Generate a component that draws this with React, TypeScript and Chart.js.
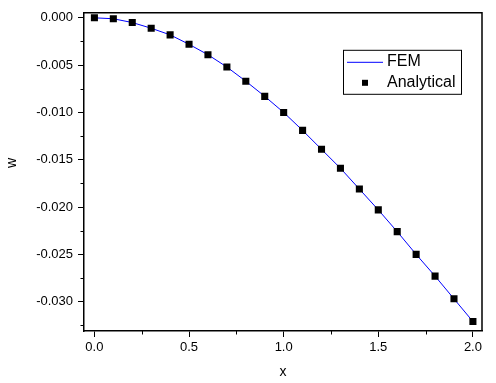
import React, { useEffect, useRef } from "react";
import { Chart, registerables } from "chart.js";

Chart.register(...registerables);

const xValues = [0, 0.1, 0.2, 0.3, 0.4, 0.5, 0.6, 0.7, 0.8, 0.9, 1.0, 1.1, 1.2, 1.3, 1.4, 1.5, 1.6, 1.7, 1.8, 1.9, 2.0];
const femW = [0, -0.0001, -0.0005, -0.0011, -0.0018, -0.0028, -0.0039, -0.0052, -0.0067, -0.0083, -0.0100, -0.0119, -0.0139, -0.0159, -0.0181, -0.0203, -0.0226, -0.0250, -0.0273, -0.0297, -0.0321];
const analyticalW = [0, -0.0001, -0.0005, -0.0011, -0.0018, -0.0028, -0.0039, -0.0052, -0.0067, -0.0083, -0.0100, -0.0119, -0.0139, -0.0159, -0.0181, -0.0203, -0.0226, -0.0250, -0.0273, -0.0297, -0.0321];

const xTicks = [0, 0.5, 1.0, 1.5, 2.0];
const xMinorTicks = [0.25, 0.75, 1.25, 1.75];
const yTicks = [0, -0.005, -0.01, -0.015, -0.02, -0.025, -0.03];
const yMinorTicks = [-0.0025, -0.0075, -0.0125, -0.0175, -0.0225, -0.0275, -0.0325];

const seriesNames = ["FEM", "Analytical"];
const xTitle = "x";
const yTitle = "w";

const FONT = "'Liberation Sans', Arial, sans-serif";

const framePlugin = {
  id: "frame",
  afterDraw(chart: any) {
    const ctx = chart.ctx;
    const { left, right, top, bottom } = chart.chartArea;
    const xs = chart.scales.x;
    const ys = chart.scales.y;
    ctx.save();
    ctx.strokeStyle = "#000";
    ctx.lineWidth = 1.5;
    ctx.beginPath();
    ctx.moveTo(left, top);
    ctx.lineTo(right, top);
    ctx.lineTo(right, bottom);
    ctx.stroke();
    // minor ticks
    ctx.lineWidth = 1;
    ctx.beginPath();
    xMinorTicks.forEach((v) => {
      const px = Math.round(xs.getPixelForValue(v)) + 0.5;
      ctx.moveTo(px, bottom);
      ctx.lineTo(px, bottom + 3.5);
    });
    yMinorTicks.forEach((v) => {
      const py = Math.round(ys.getPixelForValue(v)) + 0.5;
      ctx.moveTo(left, py);
      ctx.lineTo(left - 3.5, py);
    });
    ctx.stroke();
    // axis titles
    ctx.fillStyle = "#000";
    ctx.font = `14px ${FONT}`;
    ctx.textAlign = "center";
    ctx.textBaseline = "middle";
    ctx.fillText(xTitle, (left + right) / 2, bottom + 41);
    ctx.save();
    ctx.translate(12, (top + bottom) / 2 - 9);
    ctx.rotate(-Math.PI / 2);
    ctx.fillText(yTitle, 0, 0);
    ctx.restore();
    // legend
    const bx = right - 139;
    const by = top + 37;
    const bw = 118;
    const bh = 44;
    ctx.lineWidth = 1;
    ctx.strokeStyle = "#000";
    ctx.strokeRect(bx + 0.5, by + 0.5, bw, bh);
    ctx.strokeStyle = "#0000ff";
    ctx.beginPath();
    ctx.moveTo(bx + 4, by + 12.5);
    ctx.lineTo(bx + 40, by + 12.5);
    ctx.stroke();
    ctx.fillStyle = "#000";
    ctx.fillRect(bx + 19, by + 30, 6, 6);
    ctx.font = `16px ${FONT}`;
    ctx.textAlign = "left";
    ctx.textBaseline = "middle";
    ctx.fillText(seriesNames[0], bx + 44, by + 12);
    ctx.fillText(seriesNames[1], bx + 44, by + 33);
    ctx.restore();
  },
};

export default function App() {
  const canvasRef = useRef<HTMLCanvasElement | null>(null);

  useEffect(() => {
    const canvas = canvasRef.current;
    if (!canvas) return;
    const chart = new Chart(canvas, {
      type: "scatter",
      data: {
        datasets: [
          {
            label: seriesNames[0],
            data: xValues.map((x, i) => ({ x, y: femW[i] })),
            showLine: true,
            borderColor: "#0000ff",
            borderWidth: 1,
            pointRadius: 0,
            order: 2,
          },
          {
            label: seriesNames[1],
            data: xValues.map((x, i) => ({ x, y: analyticalW[i] })),
            showLine: false,
            pointStyle: "rect",
            pointRadius: 5,
            pointHoverRadius: 5,
            backgroundColor: "#000",
            borderColor: "#000",
            borderWidth: 0,
            order: 1,
          },
        ],
      },
      options: {
        animation: false,
        responsive: false,
        maintainAspectRatio: false,
        events: [],
        layout: { padding: { top: 11, right: 14, left: 0, bottom: 0 } },
        plugins: {
          legend: { display: false },
          tooltip: { enabled: false },
        },
        scales: {
          x: {
            type: "linear",
            min: -0.055,
            max: 2.048,
            afterBuildTicks: (scale: any) => {
              scale.ticks = xTicks.map((value) => ({ value }));
            },
            afterFit: (scale: any) => {
              scale.height = 52;
            },
            ticks: {
              color: "#000",
              font: { family: FONT, size: 13 },
              padding: 3,
              maxRotation: 0,
              callback: (v: any) => Number(v).toFixed(1),
            },
            grid: {
              drawOnChartArea: false,
              drawTicks: true,
              tickLength: 6,
              color: "#000",
              lineWidth: 1,
            },
            border: { display: true, color: "#000", width: 1.5 },
          },
          y: {
            type: "linear",
            min: -0.0331,
            max: 0.00053,
            afterBuildTicks: (scale: any) => {
              scale.ticks = yTicks.map((value) => ({ value }));
            },
            afterFit: (scale: any) => {
              scale.width = 84;
            },
            ticks: {
              color: "#000",
              font: { family: FONT, size: 13 },
              padding: 5,
              callback: (v: any) => (Number(v) === 0 ? "0.000" : Number(v).toFixed(3)),
            },
            grid: {
              drawOnChartArea: false,
              drawTicks: true,
              tickLength: 6,
              color: "#000",
              lineWidth: 1,
            },
            border: { display: true, color: "#000", width: 1.5 },
          },
        },
      },
      plugins: [framePlugin],
    });
    return () => chart.destroy();
  }, []);

  return (
    <div style={{ position: "fixed", left: 0, top: 0, width: 496, height: 383, background: "#fff" }}>
      <canvas ref={canvasRef} width={496} height={383} style={{ width: 496, height: 383, display: "block" }} />
    </div>
  );
}
